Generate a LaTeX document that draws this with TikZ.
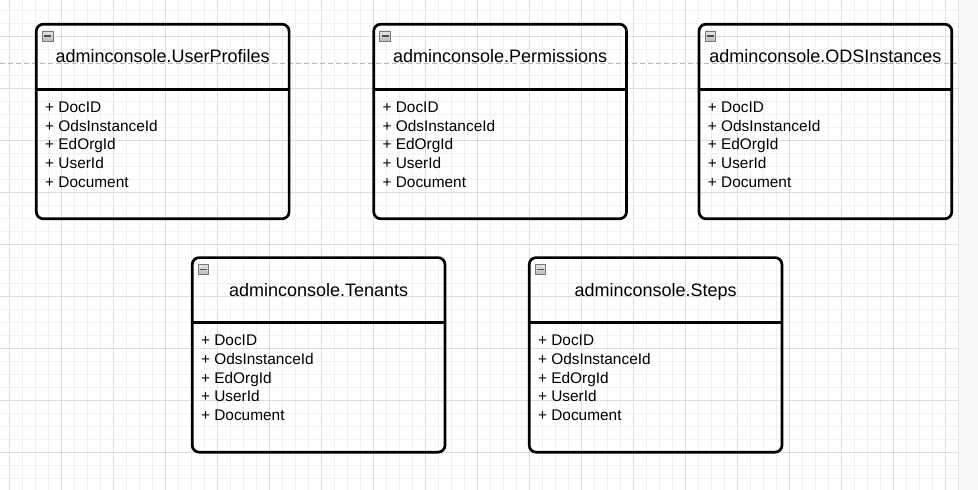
\documentclass[tikz,border=0pt]{standalone}
\usepackage{fontspec}
\setmainfont{Liberation Sans}
\usetikzlibrary{shadings}
\definecolor{majorgrid}{HTML}{DEDEDE}
\definecolor{minorgrid}{HTML}{F1F1F1}
\definecolor{stripcol}{HTML}{F8F8F8}
\definecolor{stripedge}{HTML}{E6E6E6}
\definecolor{dashcol}{HTML}{BDBDBD}
\tikzset{
  minorline/.style={draw=minorgrid, line width=1pt},
  majorline/.style={draw=majorgrid, line width=1.1pt},
  guideline/.style={draw=dashcol, line width=1pt, dash pattern=on 4.5pt off 3.5pt},
  classbox/.style={draw=black, line width=2.7pt, rounded corners=7pt, minimum width=252.8pt,
    minimum height=194.6pt, inner sep=0pt, outer sep=0pt, anchor=north west},
  divider/.style={draw=black, line width=2.7pt},
  titletext/.style={inner sep=0pt, anchor=base, font=\fontsize{18}{21.6}\selectfont},
  attrtext/.style={inner sep=0pt, anchor=base west, font=\fontsize{15.4}{18.7}\selectfont},
  minusicon/.style={draw=gray!95!black, line width=0.8pt, top color=gray!20, bottom color=gray!55,
    minimum size=10.5pt, inner sep=0pt, outer sep=0pt},
  minusline/.style={draw=black!70, line width=1.6pt}
}
\newcommand\umlclass[4]{%
  \node[classbox] (#1) at (#2,#3) {};
  \draw[divider] ([yshift=-65pt]#1.north west) -- ([yshift=-65pt]#1.north east);
  \node[titletext] (#1-title) at ([yshift=-38.5pt]#1.north) {#4};
  \foreach \r [count=\k] in {DocID,OdsInstanceId,EdOrgId,UserId,Document}{
    \node[attrtext] (#1-a\k) at ([xshift=8.7pt, yshift={-88.1pt-18.7pt*(\k-1)}]#1.north west) {+ \r};
  }
  \node[minusicon] (#1-icon) at ([xshift=11.4pt, yshift=-12pt]#1.north west) {};
  \draw[minusline] ([xshift=1.8pt]#1-icon.west) -- ([xshift=-1.8pt]#1-icon.east);
}
\begin{document}
\begin{tikzpicture}[x=1pt, y=-1pt]
\useasboundingbox (0,0) rectangle (978,490);
\fill[white] (0,0) rectangle (978,490);
% grid
\foreach \k in {0,...,72} { \draw[minorline] ({9.3+13*\k},0) -- ({9.3+13*\k},490); }
\foreach \k in {0,...,37} { \draw[minorline] (0,{10.7+13*\k}) -- (958.5,{10.7+13*\k}); }
\foreach \k in {0,...,18} { \draw[majorline] ({9.3+52*\k},0) -- ({9.3+52*\k},490); }
\foreach \k in {0,...,8} { \draw[majorline] (0,{36.7+52*\k}) -- (958.5,{36.7+52*\k}); }
% right strip
\fill[stripcol] (958.5,0) rectangle (978,490);
\draw[stripedge, line width=1.2pt] (958.8,0) -- (958.8,490);
% guide line
\coordinate (gl-start) at (0,63.3);
\coordinate (gl-end) at (958,63.3);
\draw[guideline] (gl-start) -- (gl-end);
% classes
\umlclass{userprofiles}{36.3}{24.2}{adminconsole.UserProfiles}
\umlclass{permissions}{373.7}{24.2}{adminconsole.Permissions}
\umlclass{odsinstances}{699}{24.2}{adminconsole.ODSInstances}
\umlclass{tenants}{192.2}{257.6}{adminconsole.Tenants}
\umlclass{steps}{529.2}{257.6}{adminconsole.Steps}
\end{tikzpicture}
\end{document}
